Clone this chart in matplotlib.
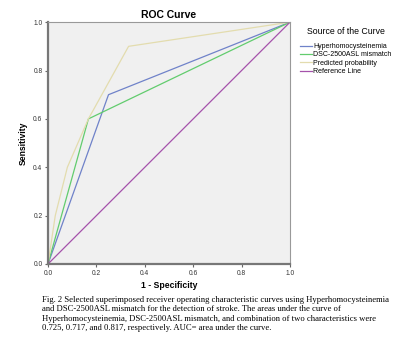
import matplotlib
matplotlib.use("Agg")
import matplotlib.pyplot as plt

# ROC coordinates (1 - specificity, sensitivity)
hyper_fpr = [0.0, 0.25, 1.0]
hyper_tpr = [0.0, 0.70, 1.0]

dsc_fpr = [0.0, 0.167, 1.0]
dsc_tpr = [0.0, 0.60, 1.0]

pred_fpr = [0.0, 0.03, 0.08, 0.167, 0.333, 1.0]
pred_tpr = [0.0, 0.20, 0.40, 0.60, 0.90, 1.0]

ref_fpr = [0.0, 1.0]
ref_tpr = [0.0, 1.0]

labels = ["Hyperhomocysteinemia", "DSC-2500ASL mismatch",
          "Predicted probability", "Reference Line"]
colors = ["#6f82c9", "#62cc6e", "#e3dcae", "#a552ab"]

ticks = [0.0, 0.2, 0.4, 0.6, 0.8, 1.0]

caption = ("Fig. 2 Selected superimposed receiver operating characteristic curves using Hyperhomocysteinemia\n"
           "and DSC-2500ASL mismatch for the detection of stroke. The areas under the curve of\n"
           "Hyperhomocysteinemia, DSC-2500ASL mismatch, and combination of two characteristics were\n"
           "0.725, 0.717, and 0.817, respectively. AUC= area under the curve.")

plt.rcParams["font.family"] = ["Liberation Sans", "DejaVu Sans"]

fig = plt.figure(figsize=(4.0, 3.46), dpi=100)
ax = fig.add_axes([0.12, 0.237, 0.605, 0.699])
ax.set_facecolor("#f0f0f0")

series = [(hyper_fpr, hyper_tpr), (dsc_fpr, dsc_tpr), (pred_fpr, pred_tpr), (ref_fpr, ref_tpr)]
for (x, y), label, color in zip(series, labels, colors):
    ax.plot(x, y, color=color, linewidth=0.9, label=label)

ax.set_xlim(0, 1)
ax.set_ylim(0, 1)
ax.set_xticks(ticks)
ax.set_yticks(ticks)
ax.set_xticklabels([f"{t:.1f}" for t in ticks])
ax.set_yticklabels([f"{t:.1f}" for t in ticks])
ax.tick_params(labelsize=4.8, length=2.5, width=0.8, color="#666666",
               labelcolor="#333333", pad=1.5)

for side in ["left", "bottom"]:
    ax.spines[side].set_color("#777777")
    ax.spines[side].set_linewidth(1.6)
for side in ["top", "right"]:
    ax.spines[side].set_color("#999999")
    ax.spines[side].set_linewidth(0.8)

ax.set_title("ROC Curve", fontsize=7.5, fontweight="bold", pad=3)
ax.set_xlabel("1 - Specificity", fontsize=6.2, fontweight="bold", labelpad=3)
ax.set_ylabel("Sensitivity", fontsize=6.2, fontweight="bold", labelpad=4)

leg = ax.legend(loc="upper left", bbox_to_anchor=(1.02, 1.0), frameon=False,
                title="Source of the Curve", title_fontsize=6.3, fontsize=5.0,
                handlelength=1.8, handletextpad=0.15, labelspacing=0.2,
                borderaxespad=0.3)
leg._legend_box.align = "center"
leg._legend_box.sep = 5

fig.text(0.105, 0.145, caption, fontsize=6.2, family="Liberation Serif",
         va="top", ha="left", linespacing=1.25)

fig.savefig("out.png", dpi=100)
